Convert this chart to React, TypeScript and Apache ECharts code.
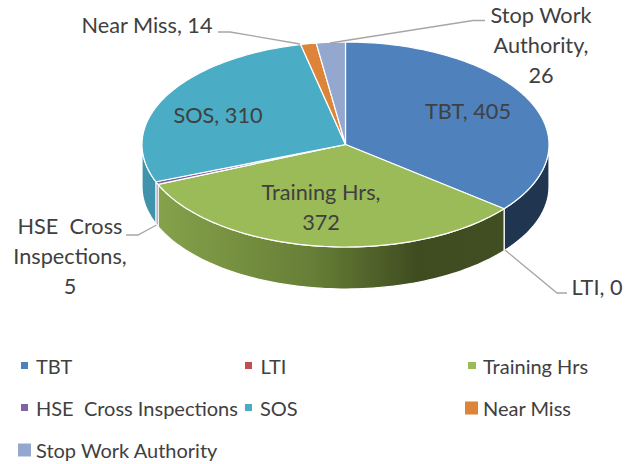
import React, { useEffect, useRef } from "react";
import * as echarts from "echarts";

const categories = ["TBT", "LTI", "Training Hrs", "HSE  Cross Inspections", "SOS", "Near Miss", "Stop Work Authority"];
const values = [405, 0, 372, 5, 310, 14, 26];
const labelNames = ["TBT", "LTI", "Training Hrs", "HSE  Cross\nInspections", "SOS", "Near Miss", "Stop Work\nAuthority"];
const labelSeparators = [" ", " ", "\n", "\n", " ", " ", "\n"];
const topColors = ["#4F81BD", "#C0504D", "#9BBB59", "#8064A2", "#4BACC6", "#DD8439", "#94A8CF"];
const sideColors = ["#1F3550", "#7A2E2C", "#84A04A", "#5E4A7C", "#3F93AB", "#A8612A", "#6F80A0"];

const CX = 345.5, CY = 144.5, RX = 203.5, RY = 102.5, DEPTH = 42;
const FONT = "Lato, 'Open Sans', sans-serif";
const LABEL_SIZE = 21.7;
const LEGEND_SIZE = 20;
const TEXT = "#404040";
const LEADER = "#A6A6A6";

const labelPos = [
  { x: 468, y: 110.5 }, { x: 597, y: 286.5 }, { x: 321, y: 207 }, { x: 70, y: 256 },
  { x: 218, y: 114.5 }, { x: 147, y: 24.5 }, { x: 541, y: 45 },
];
const leaders = [
  [[505, 250], [557, 293], [567, 293]],
  [[156.5, 225], [138, 235], [126, 235]],
  [[300, 44], [230, 32], [218, 32]],
  [[330, 43], [473, 20.5], [485, 20.5]],
];
const legendPos = [
  { x: 21, y: 365.5, w: 7, h: 7, pad: 3 }, { x: 245, y: 365.5, w: 7, h: 7, pad: 3.5 }, { x: 468, y: 365.5, w: 8, h: 7, pad: 2 },
  { x: 21, y: 407.5, w: 7, h: 7, pad: 3 }, { x: 245, y: 407.5, w: 7, h: 7, pad: 3 }, { x: 465, y: 408, w: 13, h: 13, pad: 0 },
  { x: 18, y: 450, w: 13, h: 13, pad: 0 },
];

const total = values.reduce((a, b) => a + b, 0);
const startAngles = values.map((_, i) => values.slice(0, i).reduce((a, b) => a + b, 0) / total * 360);

const pt = (deg: number, dy = 0): number[] => {
  const r = (deg * Math.PI) / 180;
  return [CX + RX * Math.sin(r), CY - RY * Math.cos(r) + dy];
};
const arc = (a: number, b: number, dy = 0): number[][] => {
  const n = Math.max(1, Math.ceil(Math.abs(b - a) / 1.5));
  const out: number[][] = [];
  for (let i = 0; i <= n; i++) out.push(pt(a + ((b - a) * i) / n, dy));
  return out;
};

const sideFill = (i: number): any => {
  if (i === 2) {
    return new echarts.graphic.LinearGradient(157, 0, 505, 0, [
      { offset: 0, color: "#86A24B" },
      { offset: 0.45, color: "#667E36" },
      { offset: 0.75, color: "#3F4C20" },
      { offset: 1, color: "#414E21" },
    ], true);
  }
  return sideColors[i];
};

const makeSeries = (i: number) => ({
  type: "custom",
  name: categories[i],
  coordinateSystem: "none",
  itemStyle: { color: topColors[i] },
  silent: true,
  z: 2,
  data: [[values[i]]],
  renderItem: (_p: any, api: any) => {
    const v = api.value(0);
    if (!v) return { type: "group", children: [] };
    const s = startAngles[i];
    const e = s + (v / total) * 360;
    const children: any[] = [];
    const a = Math.max(s, 90), b = Math.min(e, 270);
    if (b > a) {
      children.push({
        type: "polygon",
        shape: { points: [...arc(a, b), ...arc(b, a, DEPTH)] },
        style: { fill: sideFill(i), stroke: "#fff", lineWidth: 1.2, lineJoin: "round" },
      });
    }
    children.push({
      type: "polygon",
      shape: { points: [[CX, CY], ...arc(s, e)] },
      style: { fill: topColors[i], stroke: "#fff", lineWidth: 1.2, lineJoin: "round" },
    });
    return { type: "group", children };
  },
});

export default function App() {
  const ref = useRef<HTMLDivElement>(null);
  useEffect(() => {
    document.body.style.margin = "0";
    const chart = echarts.init(ref.current!, null, { renderer: "svg" });
    chart.setOption({
      animation: false,
      backgroundColor: "#fff",
      series: categories.map((_, i) => makeSeries(i)),
      legend: categories.map((c, i) => ({
        data: [{ name: c, icon: "rect", itemStyle: { color: topColors[i] } }],
        left: legendPos[i].x,
        top: legendPos[i].y - 12,
        padding: 0,
        itemWidth: legendPos[i].w,
        itemHeight: legendPos[i].h,
        selectedMode: false,
        textStyle: {
          fontFamily: FONT, fontSize: LEGEND_SIZE, color: TEXT, lineHeight: 24, height: 24,
          padding: [0, 0, 0, legendPos[i].pad],
        },
      })),
      graphic: [
        ...leaders.map((points) => ({
          type: "polyline", z: 5, silent: true,
          shape: { points },
          style: { stroke: LEADER, lineWidth: 1.3, fill: "none" },
        })),
        ...categories.map((_, i) => ({
          type: "text", z: 6, silent: true,
          x: labelPos[i].x, y: labelPos[i].y,
          style: {
            text: `${labelNames[i]},${labelSeparators[i]}${values[i]}`,
            fontFamily: FONT, fontSize: LABEL_SIZE, lineHeight: 30, fill: TEXT,
            textAlign: "center", textVerticalAlign: "middle",
          },
        })),
      ],
    });
    return () => chart.dispose();
  }, []);
  return <div ref={ref} style={{ width: 626, height: 464 }} />;
}
